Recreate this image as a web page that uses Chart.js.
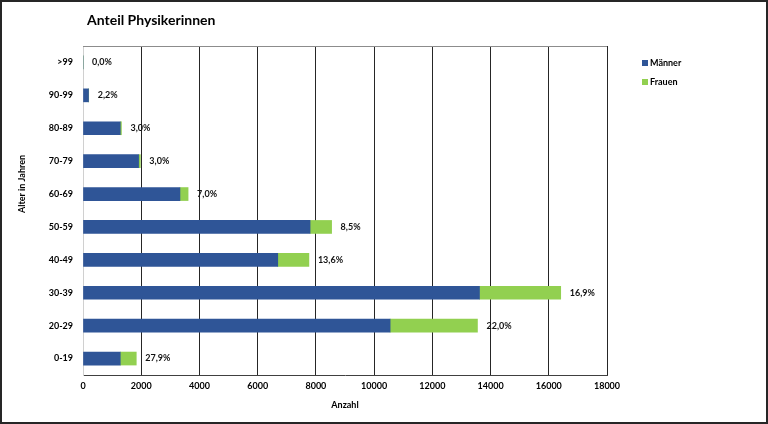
<!DOCTYPE html>
<html>
<head>
<meta charset="utf-8">
<script src="https://cdn.jsdelivr.net/npm/chart.js@4.4.1/dist/chart.umd.min.js"></script>
<style>
  html, body { margin: 0; padding: 0; background: #fff; }
  canvas { display: block; }
</style>
</head>
<body>
<canvas id="chart" width="768" height="424"></canvas>
<script>
// Altersgruppen (von unten nach oben)
const ageGroups = ['0-19', '20-29', '30-39', '40-49', '50-59', '60-69', '70-79', '80-89', '90-99', '>99'];
const maenner = [1280, 10550, 13620, 6690, 7800, 3330, 1910, 1280, 190, 0];
const frauen = [550, 3000, 2790, 1070, 740, 280, 60, 40, 6, 0];
const anteilLabels = ['27,9%', '22,0%', '16,9%', '13,6%', '8,5%', '7,0%', '3,0%', '3,0%', '2,2%', '0,0%'];
const xTicks = [0, 2000, 4000, 6000, 8000, 10000, 12000, 14000, 16000, 18000];

const FONT = 'Lato, "Liberation Sans", sans-serif';
const BLUE = '#2F5597';
const GREEN = '#92D050';

Chart.defaults.font.family = FONT;
Chart.defaults.color = '#000';

// Title, legend, y-axis title, percentages and frame
const extras = {
    id: 'extras',
    beforeDraw(chart) {
        const ctx = chart.ctx;
        ctx.save();
        ctx.fillStyle = '#fff';
        ctx.fillRect(0, 0, chart.width, chart.height);
        ctx.restore();
    },
    afterDatasetsDraw(chart) {
        const ctx = chart.ctx;
        const area = chart.chartArea;
        const xScale = chart.scales.x;
        const yScale = chart.scales.y;
        ctx.save();

        // top border of plot area
        ctx.strokeStyle = '#8c8c8c';
        ctx.lineWidth = 1;
        ctx.beginPath();
        ctx.moveTo(area.left, area.top + 0.5);
        ctx.lineTo(area.right, area.top + 0.5);
        ctx.stroke();

        // percentage labels
        ctx.font = 'bold 9px ' + FONT;
        ctx.fillStyle = '#111';
        ctx.textAlign = 'left';
        ctx.textBaseline = 'middle';
        ageGroups.forEach((g, i) => {
            const total = maenner[i] + frauen[i];
            const x = xScale.getPixelForValue(total) + 9;
            const y = yScale.getPixelForValue(i);
            ctx.fillText(anteilLabels[i], x, y);
        });

        // title
        ctx.font = 'bold 14px ' + FONT;
        ctx.fillStyle = '#000';
        ctx.fillText('Anteil Physikerinnen', 87, 20);

        // y-axis title
        ctx.font = 'bold 9px ' + FONT;
        ctx.translate(22, 184);
        ctx.rotate(-Math.PI / 2);
        ctx.textAlign = 'center';
        ctx.fillText('Alter in Jahren', 0, 0);
        ctx.setTransform(1, 0, 0, 1, 0, 0);

        // legend
        ctx.textAlign = 'left';
        chart.data.datasets.forEach((ds, i) => {
            const y = 63 + i * 19;
            ctx.fillStyle = ds.backgroundColor;
            ctx.fillRect(642, y - 3, 6, 6);
            ctx.fillStyle = '#000';
            ctx.fillText(ds.label, 650, y);
        });

        // outer frame
        ctx.strokeStyle = '#262626';
        ctx.lineWidth = 2;
        ctx.strokeRect(1, 1, chart.width - 2, chart.height - 2);
        ctx.restore();
    }
};

new Chart(document.getElementById('chart'), {
    type: 'bar',
    data: {
        labels: ageGroups,
        datasets: [
            { label: 'Männer', data: maenner, backgroundColor: BLUE, barThickness: 13 },
            { label: 'Frauen', data: frauen, backgroundColor: GREEN, barThickness: 13 }
        ]
    },
    options: {
        indexAxis: 'y',
        responsive: false,
        animation: false,
        devicePixelRatio: 1,
        layout: { padding: { left: 0, top: 46, right: 161, bottom: 0 } },
        plugins: {
            legend: { display: false },
            title: { display: false },
            tooltip: { enabled: false }
        },
        scales: {
            x: {
                stacked: true,
                min: 0,
                max: 18000,
                afterBuildTicks: s => { s.ticks = xTicks.map(v => ({ value: v })); },
                afterFit: s => { s.height = 49; },
                ticks: {
                    font: { size: 9, weight: 'bold' },
                    color: '#000',
                    padding: 6,
                    maxRotation: 0,
                    callback: v => String(v)
                },
                grid: {
                    drawTicks: false,
                    lineWidth: 1,
                    color: c => c.index === 0 ? '#d0d0d0' : '#262626'
                },
                border: { color: '#404040', width: 1 },
                title: {
                    display: true,
                    text: 'Anzahl',
                    font: { size: 9, weight: 'bold' },
                    color: '#000',
                    padding: { top: 0, bottom: 14 }
                }
            },
            y: {
                stacked: true,
                reverse: true,
                afterFit: s => { s.width = 83; },
                ticks: { font: { size: 9, weight: 'bold' }, color: '#000', padding: 10 },
                grid: { display: false, drawTicks: false },
                border: { color: '#d0d0d0', width: 1 }
            }
        }
    },
    plugins: [extras]
});
</script>
</body>
</html>
